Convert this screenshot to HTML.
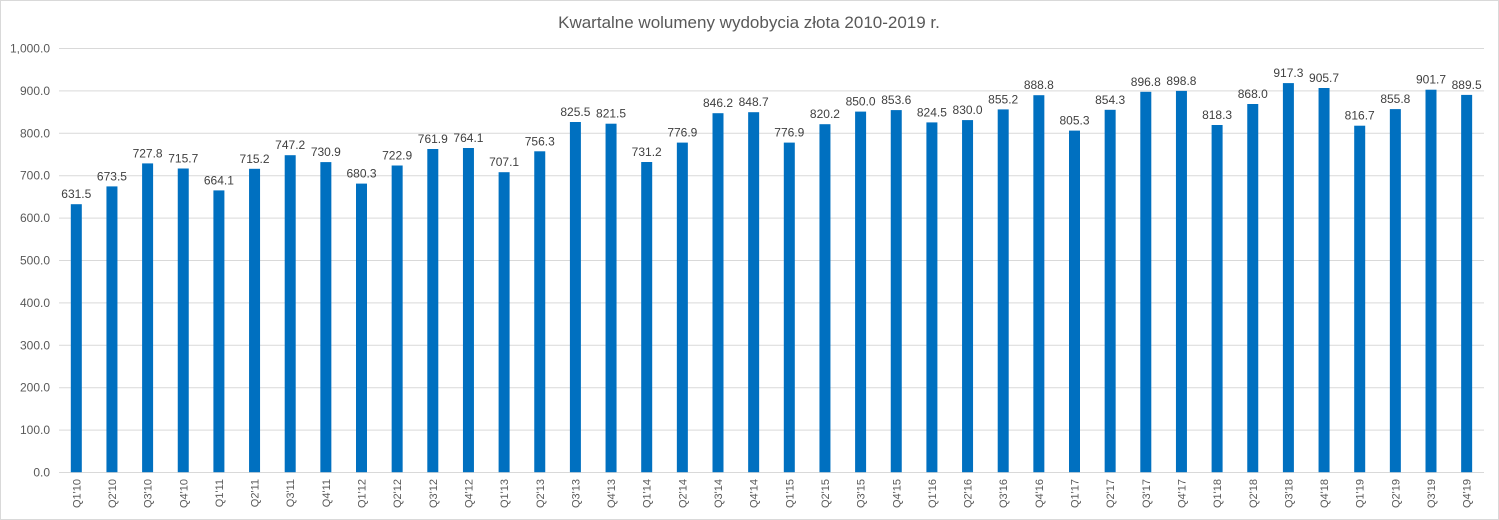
<!DOCTYPE html><html><head><style>body{margin:0;background:#fff}svg{display:block;font-family:"Liberation Sans",Arial,sans-serif}</style></head><body>
<svg width="1499" height="520" xmlns="http://www.w3.org/2000/svg">
<rect x="0.5" y="0.5" width="1498" height="519" fill="#fff" stroke="#d9d9d9"/>
<text x="749" y="28" text-anchor="middle" font-size="17" fill="#595959">Kwartalne wolumeny wydobycia złota 2010-2019 r.</text>
<g stroke="#d9d9d9" stroke-width="1">
<line x1="59" x2="1484" y1="48.5" y2="48.5"/><line x1="59" x2="1484" y1="90.9" y2="90.9"/><line x1="59" x2="1484" y1="133.3" y2="133.3"/><line x1="59" x2="1484" y1="175.7" y2="175.7"/><line x1="59" x2="1484" y1="218.1" y2="218.1"/><line x1="59" x2="1484" y1="260.5" y2="260.5"/><line x1="59" x2="1484" y1="302.9" y2="302.9"/><line x1="59" x2="1484" y1="345.3" y2="345.3"/><line x1="59" x2="1484" y1="387.7" y2="387.7"/><line x1="59" x2="1484" y1="430.1" y2="430.1"/><line x1="59" x2="1484" y1="472.5" y2="472.5"/>
</g>
<g font-size="12" fill="#595959" text-anchor="end">
<text x="50" y="52.5">1,000.0</text><text x="50" y="94.9">900.0</text><text x="50" y="137.3">800.0</text><text x="50" y="179.7">700.0</text><text x="50" y="222.1">600.0</text><text x="50" y="264.5">500.0</text><text x="50" y="306.9">400.0</text><text x="50" y="349.3">300.0</text><text x="50" y="391.7">200.0</text><text x="50" y="434.1">100.0</text><text x="50" y="476.5">0.0</text>
</g>
<g fill="#0070c0">
<rect x="70.8" y="204.2" width="11" height="268"/><rect x="106.45" y="186.4" width="11" height="285.8"/><rect x="142.1" y="163.4" width="11" height="308.8"/><rect x="177.75" y="168.5" width="11" height="303.7"/><rect x="213.4" y="190.4" width="11" height="281.8"/><rect x="249.05" y="168.8" width="11" height="303.4"/><rect x="284.7" y="155.2" width="11" height="317"/><rect x="320.35" y="162.1" width="11" height="310.1"/><rect x="356" y="183.6" width="11" height="288.6"/><rect x="391.65" y="165.5" width="11" height="306.7"/><rect x="427.3" y="149" width="11" height="323.2"/><rect x="462.95" y="148" width="11" height="324.2"/><rect x="498.6" y="172.2" width="11" height="300"/><rect x="534.25" y="151.3" width="11" height="320.9"/><rect x="569.9" y="122" width="11" height="350.2"/><rect x="605.55" y="123.7" width="11" height="348.5"/><rect x="641.2" y="162" width="11" height="310.2"/><rect x="676.85" y="142.6" width="11" height="329.6"/><rect x="712.5" y="113.2" width="11" height="359"/><rect x="748.15" y="112.2" width="11" height="360"/><rect x="783.8" y="142.6" width="11" height="329.6"/><rect x="819.45" y="124.2" width="11" height="348"/><rect x="855.1" y="111.6" width="11" height="360.6"/><rect x="890.75" y="110.1" width="11" height="362.1"/><rect x="926.4" y="122.4" width="11" height="349.8"/><rect x="962.05" y="120.1" width="11" height="352.1"/><rect x="997.7" y="109.4" width="11" height="362.8"/><rect x="1033.35" y="95.2" width="11" height="377"/><rect x="1069" y="130.6" width="11" height="341.6"/><rect x="1104.65" y="109.8" width="11" height="362.4"/><rect x="1140.3" y="91.8" width="11" height="380.4"/><rect x="1175.95" y="90.9" width="11" height="381.3"/><rect x="1211.6" y="125" width="11" height="347.2"/><rect x="1247.25" y="104" width="11" height="368.2"/><rect x="1282.9" y="83.1" width="11" height="389.1"/><rect x="1318.55" y="88" width="11" height="384.2"/><rect x="1354.2" y="125.7" width="11" height="346.5"/><rect x="1389.85" y="109.1" width="11" height="363.1"/><rect x="1425.5" y="89.7" width="11" height="382.5"/><rect x="1461.15" y="94.9" width="11" height="377.3"/>
</g>
<g font-size="12" fill="#404040" text-anchor="middle">
<text x="76.3" y="198.2">631.5</text><text x="111.95" y="180.4">673.5</text><text x="147.6" y="157.4">727.8</text><text x="183.25" y="162.5">715.7</text><text x="218.9" y="184.4">664.1</text><text x="254.55" y="162.8">715.2</text><text x="290.2" y="149.2">747.2</text><text x="325.85" y="156.1">730.9</text><text x="361.5" y="177.6">680.3</text><text x="397.15" y="159.5">722.9</text><text x="432.8" y="143">761.9</text><text x="468.45" y="142">764.1</text><text x="504.1" y="166.2">707.1</text><text x="539.75" y="145.3">756.3</text><text x="575.4" y="116">825.5</text><text x="611.05" y="117.7">821.5</text><text x="646.7" y="156">731.2</text><text x="682.35" y="136.6">776.9</text><text x="718" y="107.2">846.2</text><text x="753.65" y="106.2">848.7</text><text x="789.3" y="136.6">776.9</text><text x="824.95" y="118.2">820.2</text><text x="860.6" y="105.6">850.0</text><text x="896.25" y="104.1">853.6</text><text x="931.9" y="116.4">824.5</text><text x="967.55" y="114.1">830.0</text><text x="1003.2" y="103.4">855.2</text><text x="1038.85" y="89.2">888.8</text><text x="1074.5" y="124.6">805.3</text><text x="1110.15" y="103.8">854.3</text><text x="1145.8" y="85.8">896.8</text><text x="1181.45" y="84.9">898.8</text><text x="1217.1" y="119">818.3</text><text x="1252.75" y="98">868.0</text><text x="1288.4" y="77.1">917.3</text><text x="1324.05" y="82">905.7</text><text x="1359.7" y="119.7">816.7</text><text x="1395.35" y="103.1">855.8</text><text x="1431" y="83.7">901.7</text><text x="1466.65" y="88.9">889.5</text>
</g>
<g font-size="11" fill="#595959" text-anchor="end">
<text transform="translate(80.3,479) rotate(-90)">Q1'10</text><text transform="translate(115.95,479) rotate(-90)">Q2'10</text><text transform="translate(151.6,479) rotate(-90)">Q3'10</text><text transform="translate(187.25,479) rotate(-90)">Q4'10</text><text transform="translate(222.9,479) rotate(-90)">Q1'11</text><text transform="translate(258.55,479) rotate(-90)">Q2'11</text><text transform="translate(294.2,479) rotate(-90)">Q3'11</text><text transform="translate(329.85,479) rotate(-90)">Q4'11</text><text transform="translate(365.5,479) rotate(-90)">Q1'12</text><text transform="translate(401.15,479) rotate(-90)">Q2'12</text><text transform="translate(436.8,479) rotate(-90)">Q3'12</text><text transform="translate(472.45,479) rotate(-90)">Q4'12</text><text transform="translate(508.1,479) rotate(-90)">Q1'13</text><text transform="translate(543.75,479) rotate(-90)">Q2'13</text><text transform="translate(579.4,479) rotate(-90)">Q3'13</text><text transform="translate(615.05,479) rotate(-90)">Q4'13</text><text transform="translate(650.7,479) rotate(-90)">Q1'14</text><text transform="translate(686.35,479) rotate(-90)">Q2'14</text><text transform="translate(722,479) rotate(-90)">Q3'14</text><text transform="translate(757.65,479) rotate(-90)">Q4'14</text><text transform="translate(793.3,479) rotate(-90)">Q1'15</text><text transform="translate(828.95,479) rotate(-90)">Q2'15</text><text transform="translate(864.6,479) rotate(-90)">Q3'15</text><text transform="translate(900.25,479) rotate(-90)">Q4'15</text><text transform="translate(935.9,479) rotate(-90)">Q1'16</text><text transform="translate(971.55,479) rotate(-90)">Q2'16</text><text transform="translate(1007.2,479) rotate(-90)">Q3'16</text><text transform="translate(1042.85,479) rotate(-90)">Q4'16</text><text transform="translate(1078.5,479) rotate(-90)">Q1'17</text><text transform="translate(1114.15,479) rotate(-90)">Q2'17</text><text transform="translate(1149.8,479) rotate(-90)">Q3'17</text><text transform="translate(1185.45,479) rotate(-90)">Q4'17</text><text transform="translate(1221.1,479) rotate(-90)">Q1'18</text><text transform="translate(1256.75,479) rotate(-90)">Q2'18</text><text transform="translate(1292.4,479) rotate(-90)">Q3'18</text><text transform="translate(1328.05,479) rotate(-90)">Q4'18</text><text transform="translate(1363.7,479) rotate(-90)">Q1'19</text><text transform="translate(1399.35,479) rotate(-90)">Q2'19</text><text transform="translate(1435,479) rotate(-90)">Q3'19</text><text transform="translate(1470.65,479) rotate(-90)">Q4'19</text>
</g>
</svg></body></html>
